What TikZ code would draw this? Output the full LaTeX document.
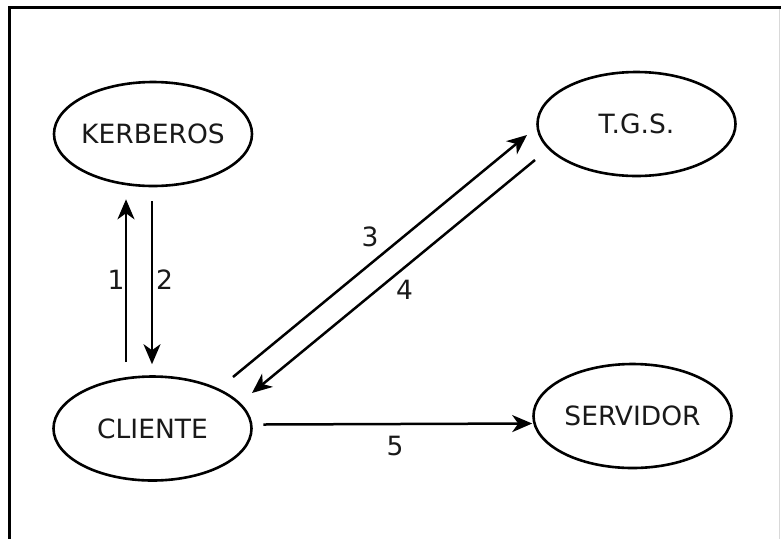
\documentclass[tikz,border=0pt]{standalone}
\usepackage{fontspec}
\setmainfont{DejaVu Sans}
\usetikzlibrary{arrows.meta,shapes.geometric}
\begin{document}
\begin{tikzpicture}[x=1pt,y=-1pt,
  ent/.style={ellipse,draw=black,line width=2.6pt,inner ysep=0pt,inner xsep=-4pt,
    minimum width=198pt,minimum height=104pt,
    font=\fontsize{26.5}{31}\selectfont,text=black!90},
  conn/.style={line width=2.5pt,-{Stealth[length=20pt,width=17pt,inset=6pt]}},
  lbl/.style={font=\fontsize{26.5}{31}\selectfont,text=black!90,inner sep=0pt},
  frame/.style={line width=3.5pt,line join=miter}]
\useasboundingbox (0,0) rectangle (781,539);
\fill[white] (0,0) rectangle (781,539);
% frame
\draw[frame] (781,7.5) -- (9.5,7.5) -- (9.5,539);
\draw[black!15,line width=1pt] (779.5,9) -- (779.5,539);
% nodes
\node[ent] (ker) at (153,134) {KERBEROS};
\node[ent] (tgs) at (636.5,124) {T.G.S.};
\node[ent] (cli) at (152.5,428.5) {CLIENTE};
\node[ent] (srv) at (632.5,416) {SERVIDOR};
% connectors
\draw[conn] ([shift={(-26.5pt,13pt)}]cli.north) -- ([shift={(-27pt,-12pt)}]ker.south);
\draw[conn] ([shift={(-1pt,-14pt)}]ker.south) -- ([shift={(-0.5pt,11pt)}]cli.north);
\draw[conn] ([shift={(80.5pt,51.5pt)}]cli.center) -- ([shift={(-109.5pt,-11pt)}]tgs.center);
\draw[conn] ([shift={(-101.5pt,-36pt)}]tgs.center) -- ([shift={(99.5pt,35.5pt)}]cli.center);
\draw[conn] ([shift={(10.5pt,4pt)}]cli.east) -- ([shift={(0pt,-7.5pt)}]srv.west);
% labels
\node[lbl] (l1) at (116,280) {1};
\node[lbl] (l2) at (164.5,280) {2};
\node[lbl] (l3) at (370,236.5) {3};
\node[lbl] (l4) at (404.5,290) {4};
\node[lbl] (l5) at (395,446) {5};
\end{tikzpicture}
\end{document}
